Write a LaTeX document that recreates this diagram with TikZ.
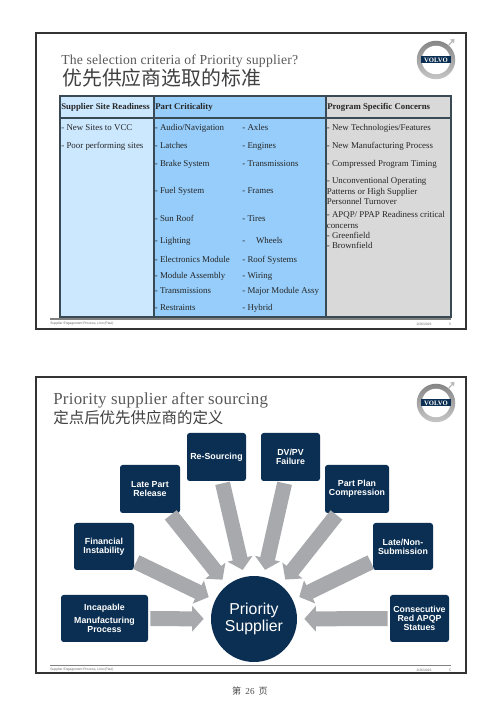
\documentclass[tikz,border=0pt]{standalone}
\usepackage{fontspec}
\setmainfont{Liberation Serif}
\setsansfont{Liberation Sans}
\newfontfamily\cjk{Noto Sans CJK SC}
\usetikzlibrary{arrows.meta}
\definecolor{navybox}{HTML}{0B2F52}
\definecolor{arrowgray}{HTML}{A7A9AC}
\definecolor{paleblue}{HTML}{CCE8FF}
\definecolor{midblue}{HTML}{96CDFB}
\definecolor{cellgray}{HTML}{D9D9D9}
\definecolor{tableline}{HTML}{3A4A55}
\tikzset{
  slideframe/.style={draw=black!80,line width=0.8pt},
  tableline/.style={draw=tableline,line width=0.85pt},
  cell/.style={anchor=west,inner sep=0pt,font=\fontsize{5.05}{5.95}\selectfont,align=left,text=black!85},
  rowcell/.style={cell,text height=3.6pt,text depth=1.1pt},
  headcell/.style={rowcell,font=\fontsize{5}{5.95}\selectfont\bfseries},
  navy/.style={fill=navybox,rounded corners=1.5pt,text=white,align=center,inner sep=0pt,
    minimum height=0.96cm,font=\sffamily\bfseries\fontsize{5}{5.2}\selectfont},
  feed/.style={arrowgray,line width=0.3cm,shorten <=0.04cm,shorten >=0.14cm,
    -{Triangle[length=0.23cm,width=0.5cm]}},
  foot/.style={inner sep=0pt,text=black!60,font=\sffamily\fontsize{1.9}{2}\selectfont},
  volvologo/.pic={
    \shade[top color=gray!95,bottom color=gray!45] (0,0) circle (0.385);
    \fill[white] (0,0) circle (0.285);
    \draw[gray!55,line width=0.7pt] (0.25,0.29) -- (0.35,0.40);
    \fill[gray!55] (0.37,0.42) -- (0.28,0.41) -- (0.36,0.33) -- cycle;
    \fill[navybox] (-0.30,-0.07) rectangle (0.30,0.07);
    \node[text=white,inner sep=0pt,font=\bfseries\fontsize{3.8}{3.8}\selectfont] (-word) at (0,0) {VOLVO};
  }
}
\begin{document}
\begin{tikzpicture}
  \useasboundingbox (0,0) rectangle (10,14.14);
  \fill[white] (0,0) rectangle (10,14.14);

  % upper slide
  \draw[slideframe] (0.72,13.48) rectangle (9.32,7.56);
  \node[anchor=base west,inner sep=0pt,text=black!65,font=\fontsize{7.8}{9}\selectfont\addfontfeature{LetterSpace=1.4}] (titlea) at (1.22,12.84) {The selection criteria of Priority supplier?};
  \node[anchor=west,inner sep=0pt,text=black!75,font=\cjk\fontsize{11.3}{12}\selectfont] (titleb) at (1.24,12.58) {优先供应商选取的标准};
  \pic (logoa) at (8.72,12.94) {volvologo};

  \fill[paleblue] (1.20,12.22) rectangle (3.08,7.80);
  \fill[midblue] (3.08,12.22) rectangle (6.52,7.80);
  \fill[cellgray] (6.52,12.22) rectangle (9.02,7.80);
  \draw[tableline] (1.20,12.22) rectangle (9.02,7.80);
  \draw[tableline] (1.20,11.78) -- (9.02,11.78);
  \draw[tableline] (3.08,12.22) -- (3.08,7.80);
  \draw[tableline] (6.52,12.22) -- (6.52,7.80);

  \node[headcell] (readiness) at (1.22,12.00) {Supplier Site Readiness};
  \node[headcell] (criticality) at (3.10,12.00) {Part Criticality};
  \node[headcell] (concerns) at (6.54,12.00) {Program Specific Concerns};

  \node[rowcell] (newsites) at (1.22,11.58) {- New Sites to VCC};
  \node[rowcell] (poor) at (1.22,11.22) {- Poor performing sites};

  \node[rowcell] (audio) at (3.09,11.58) {- Audio/Navigation};
  \node[rowcell] (latches) at (3.09,11.22) {- Latches};
  \node[rowcell] (brake) at (3.09,10.86) {- Brake System};
  \node[rowcell] (fuel) at (3.09,10.32) {- Fuel System};
  \node[rowcell] (sunroof) at (3.09,9.76) {- Sun Roof};
  \node[rowcell] (lighting) at (3.09,9.32) {- Lighting};
  \node[rowcell] (electronics) at (3.09,8.94) {- Electronics Module};
  \node[rowcell] (module) at (3.09,8.62) {- Module Assembly};
  \node[rowcell] (transa) at (3.09,8.32) {- Transmissions};
  \node[rowcell] (restraints) at (3.09,7.98) {- Restraints};

  \node[rowcell] (axles) at (4.84,11.58) {- Axles};
  \node[rowcell] (engines) at (4.84,11.22) {- Engines};
  \node[rowcell] (transb) at (4.84,10.86) {- Transmissions};
  \node[rowcell] (frames) at (4.84,10.32) {- Frames};
  \node[rowcell] (tires) at (4.84,9.76) {- Tires};
  \node[rowcell] (wheels) at (4.84,9.32) {-\hspace{3.6pt}\ \ Wheels};
  \node[rowcell] (roof) at (4.84,8.94) {- Roof Systems};
  \node[rowcell] (wiring) at (4.84,8.62) {- Wiring};
  \node[rowcell] (major) at (4.84,8.32) {- Major Module Assy};
  \node[rowcell] (hybrid) at (4.84,7.98) {- Hybrid};

  \node[rowcell] (newtech) at (6.53,11.58) {- New Technologies/Features};
  \node[rowcell] (newmanu) at (6.53,11.22) {- New Manufacturing Process};
  \node[rowcell] (timing) at (6.53,10.86) {- Compressed Program Timing};
  \node[cell] (unconv) at (6.53,10.32) {- Unconventional Operating\\Patterns or High Supplier\\Personnel Turnover};
  \node[cell] (apqp) at (6.53,9.74) {- APQP/ PPAP Readiness critical\\concerns};
  \node[rowcell] (green) at (6.53,9.42) {- Greenfield};
  \node[rowcell] (brown) at (6.53,9.22) {- Brownfield};

  \draw[gray,line width=0.7pt] (1.00,7.76) -- (9.02,7.76);
  \node[foot,anchor=west] (foota) at (1.00,7.66) {Supplier Engagement Process, Linn (Paul)};
  \node[foot] (datea) at (8.48,7.66) {2/26/2016};
  \node[foot] (pagea) at (9.00,7.66) {5};

  % lower slide
  \draw[slideframe] (0.72,6.60) rectangle (9.32,0.68);
  \node[anchor=base west,inner sep=0pt,text=black!65,font=\fontsize{9.6}{11}\selectfont\addfontfeature{LetterSpace=1.5}] (titlec) at (1.06,6.04) {Priority supplier after sourcing};
  \node[anchor=west,inner sep=0pt,text=black!75,font=\cjk\fontsize{8.8}{10}\selectfont] (titled) at (1.06,5.78) {定点后优先供应商的定义};
  \pic (logob) at (8.72,6.08) {volvologo};

  \node[fill=navybox,circle,minimum size=1.72cm,inner sep=0pt,text=white,align=center,font=\sffamily\fontsize{9}{9.9}\selectfont] (priority) at (5.08,1.76) {Priority\\Supplier};

  \node[navy,minimum width=1.18cm] (resourcing) at (4.33,5.00) {Re-Sourcing};
  \node[navy,minimum width=1.18cm] (dvpv) at (5.81,5.00) {DV/PV\\Failure};
  \node[navy,minimum width=1.20cm] (latepart) at (3.00,4.36) {Late Part\\Release};
  \node[navy,minimum width=1.28cm] (partplan) at (7.14,4.36) {Part Plan\\Compression};
  \node[navy,minimum width=1.20cm,minimum height=0.94cm] (financial) at (2.08,3.21) {Financial\\Instability};
  \node[navy,minimum width=1.20cm,minimum height=0.94cm] (latenon) at (8.06,3.21) {Late/Non-\\Submission};
  \node[navy,minimum width=1.74cm,minimum height=0.94cm] (incapable) at (2.09,1.77) {Incapable\\[1.8pt]Manufacturing\\Process};
  \node[navy,minimum width=1.18cm,minimum height=0.94cm] (consecutive) at (8.39,1.77) {Consecutive\\Red APQP\\Statues};

  \draw[feed] (incapable) -- (priority);
  \draw[feed] (financial) -- (priority);
  \draw[feed] (latepart) -- (priority);
  \draw[feed] (resourcing) -- (priority);
  \draw[feed] (dvpv) -- (priority);
  \draw[feed] (partplan) -- (priority);
  \draw[feed] (latenon) -- (priority);
  \draw[feed] (consecutive) -- (priority);

  \draw[gray,line width=0.5pt] (1.00,0.84) -- (9.02,0.84);
  \node[foot,anchor=west] (footb) at (1.00,0.74) {Supplier Engagement Process, Linn (Paul)};
  \node[foot] (dateb) at (8.48,0.74) {2/26/2016};
  \node[foot] (pageb) at (9.00,0.74) {5};

  \node[inner sep=0pt,text=black!70,font=\cjk\fontsize{5.2}{6}\selectfont] (pagenote) at (5.00,0.32) {第\ \ {\rmfamily 26}\ \ 页};
\end{tikzpicture}
\end{document}
